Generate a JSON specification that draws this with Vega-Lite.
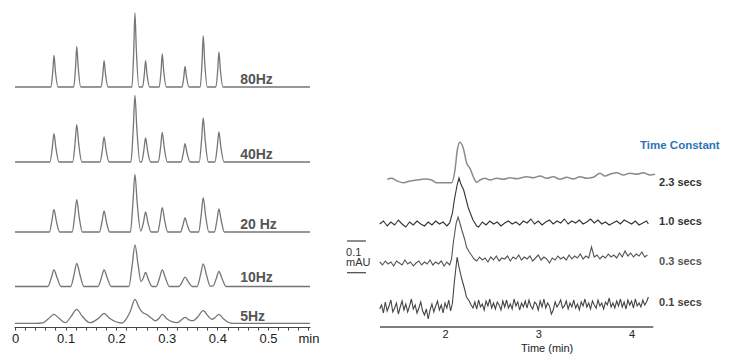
{
"$schema":"https://vega.github.io/schema/vega-lite/v6.json",
"padding":{"left":11,"top":0,"right":0,"bottom":0},
"background":"white",
"bounds":"flush",
"spacing":30,
"config":{"view":{"stroke":null},"font":"Liberation Sans"},
"hconcat":[
{
"width":296,"height":327,
"resolve":{"axis":{"x":"independent"}},
"layer":[
{"data":{"values":[
{"s":"80Hz","t":0,"v":240},{"s":"80Hz","t":0.071,"v":240},{"s":"80Hz","t":0.0747,"v":255.8},{"s":"80Hz","t":0.077,"v":271.6},{"s":"80Hz","t":0.0798,"v":255.8},{"s":"80Hz","t":0.085,"v":240},
{"s":"80Hz","t":0.116,"v":240},{"s":"80Hz","t":0.1197,"v":260.3},{"s":"80Hz","t":0.122,"v":280.6},{"s":"80Hz","t":0.1248,"v":260.3},{"s":"80Hz","t":0.130,"v":240},
{"s":"80Hz","t":0.170,"v":240},{"s":"80Hz","t":0.1737,"v":253.2},{"s":"80Hz","t":0.176,"v":266.3},{"s":"80Hz","t":0.1788,"v":253.2},{"s":"80Hz","t":0.184,"v":240},
{"s":"80Hz","t":0.231,"v":240},{"s":"80Hz","t":0.2347,"v":277},{"s":"80Hz","t":0.237,"v":314},{"s":"80Hz","t":0.2398,"v":277},{"s":"80Hz","t":0.245,"v":240},
{"s":"80Hz","t":0.252,"v":240},{"s":"80Hz","t":0.2557,"v":253.2},{"s":"80Hz","t":0.258,"v":266.3},{"s":"80Hz","t":0.2608,"v":253.2},{"s":"80Hz","t":0.266,"v":240},
{"s":"80Hz","t":0.285,"v":240},{"s":"80Hz","t":0.2887,"v":256.5},{"s":"80Hz","t":0.291,"v":273},{"s":"80Hz","t":0.2938,"v":256.5},{"s":"80Hz","t":0.299,"v":240},
{"s":"80Hz","t":0.330,"v":240},{"s":"80Hz","t":0.3337,"v":250.3},{"s":"80Hz","t":0.336,"v":260.6},{"s":"80Hz","t":0.3388,"v":250.3},{"s":"80Hz","t":0.344,"v":240},
{"s":"80Hz","t":0.366,"v":240},{"s":"80Hz","t":0.3697,"v":265.7},{"s":"80Hz","t":0.372,"v":291.3},{"s":"80Hz","t":0.3748,"v":265.7},{"s":"80Hz","t":0.380,"v":240},
{"s":"80Hz","t":0.397,"v":240},{"s":"80Hz","t":0.4007,"v":257.5},{"s":"80Hz","t":0.403,"v":275},{"s":"80Hz","t":0.4058,"v":257.5},{"s":"80Hz","t":0.411,"v":240},
{"s":"80Hz","t":0.583,"v":240},
{"s":"40Hz","t":0,"v":165},{"s":"40Hz","t":0.069,"v":165},{"s":"40Hz","t":0.0737,"v":179.2},{"s":"40Hz","t":0.077,"v":193.3},{"s":"40Hz","t":0.0808,"v":179.2},{"s":"40Hz","t":0.087,"v":165},
{"s":"40Hz","t":0.114,"v":165},{"s":"40Hz","t":0.1187,"v":183.7},{"s":"40Hz","t":0.122,"v":202.3},{"s":"40Hz","t":0.1258,"v":183.7},{"s":"40Hz","t":0.132,"v":165},
{"s":"40Hz","t":0.168,"v":165},{"s":"40Hz","t":0.1727,"v":177.5},{"s":"40Hz","t":0.176,"v":190},{"s":"40Hz","t":0.1798,"v":177.5},{"s":"40Hz","t":0.186,"v":165},
{"s":"40Hz","t":0.229,"v":165},{"s":"40Hz","t":0.2337,"v":198.3},{"s":"40Hz","t":0.237,"v":231.6},{"s":"40Hz","t":0.2408,"v":198.3},{"s":"40Hz","t":0.247,"v":165},
{"s":"40Hz","t":0.250,"v":165},{"s":"40Hz","t":0.2547,"v":177},{"s":"40Hz","t":0.258,"v":189},{"s":"40Hz","t":0.2618,"v":177},{"s":"40Hz","t":0.268,"v":165},
{"s":"40Hz","t":0.283,"v":165},{"s":"40Hz","t":0.2877,"v":179.8},{"s":"40Hz","t":0.291,"v":194.6},{"s":"40Hz","t":0.2948,"v":179.8},{"s":"40Hz","t":0.301,"v":165},
{"s":"40Hz","t":0.328,"v":165},{"s":"40Hz","t":0.3327,"v":174.2},{"s":"40Hz","t":0.336,"v":183.3},{"s":"40Hz","t":0.3398,"v":174.2},{"s":"40Hz","t":0.346,"v":165},
{"s":"40Hz","t":0.364,"v":165},{"s":"40Hz","t":0.3687,"v":187},{"s":"40Hz","t":0.372,"v":209},{"s":"40Hz","t":0.3758,"v":187},{"s":"40Hz","t":0.382,"v":165},
{"s":"40Hz","t":0.395,"v":165},{"s":"40Hz","t":0.3997,"v":180},{"s":"40Hz","t":0.403,"v":195},{"s":"40Hz","t":0.4068,"v":180},{"s":"40Hz","t":0.413,"v":165},
{"s":"40Hz","t":0.583,"v":165},
{"s":"20Hz","t":0,"v":95},{"s":"20Hz","t":0.068,"v":95},{"s":"20Hz","t":0.073,"v":106.4},{"s":"20Hz","t":0.077,"v":117.7},{"s":"20Hz","t":0.0815,"v":106.4},{"s":"20Hz","t":0.088,"v":95},
{"s":"20Hz","t":0.113,"v":95},{"s":"20Hz","t":0.118,"v":111.2},{"s":"20Hz","t":0.122,"v":127.4},{"s":"20Hz","t":0.1265,"v":111.2},{"s":"20Hz","t":0.133,"v":95},
{"s":"20Hz","t":0.167,"v":95},{"s":"20Hz","t":0.172,"v":105.5},{"s":"20Hz","t":0.176,"v":116},{"s":"20Hz","t":0.1805,"v":105.5},{"s":"20Hz","t":0.187,"v":95},
{"s":"20Hz","t":0.228,"v":95},{"s":"20Hz","t":0.233,"v":123.9},{"s":"20Hz","t":0.237,"v":152.7},{"s":"20Hz","t":0.2415,"v":123.9},{"s":"20Hz","t":0.2485,"v":96},
{"s":"20Hz","t":0.254,"v":105},{"s":"20Hz","t":0.258,"v":115},{"s":"20Hz","t":0.2625,"v":105},{"s":"20Hz","t":0.269,"v":95},
{"s":"20Hz","t":0.282,"v":95},{"s":"20Hz","t":0.287,"v":107.2},{"s":"20Hz","t":0.291,"v":119.4},{"s":"20Hz","t":0.2955,"v":107.2},{"s":"20Hz","t":0.302,"v":95},
{"s":"20Hz","t":0.327,"v":95},{"s":"20Hz","t":0.332,"v":102},{"s":"20Hz","t":0.336,"v":109},{"s":"20Hz","t":0.3405,"v":102},{"s":"20Hz","t":0.347,"v":95},
{"s":"20Hz","t":0.363,"v":95},{"s":"20Hz","t":0.368,"v":112.2},{"s":"20Hz","t":0.372,"v":129.4},{"s":"20Hz","t":0.3765,"v":112.2},{"s":"20Hz","t":0.383,"v":95},
{"s":"20Hz","t":0.394,"v":95},{"s":"20Hz","t":0.399,"v":106.5},{"s":"20Hz","t":0.403,"v":118},{"s":"20Hz","t":0.4075,"v":106.5},{"s":"20Hz","t":0.414,"v":95},
{"s":"20Hz","t":0.583,"v":95},
{"s":"10Hz","t":0,"v":40.5},{"s":"10Hz","t":0.065,"v":40.5},{"s":"10Hz","t":0.0715,"v":48.8},{"s":"10Hz","t":0.077,"v":57},{"s":"10Hz","t":0.0835,"v":48.8},{"s":"10Hz","t":0.091,"v":40.5},
{"s":"10Hz","t":0.110,"v":40.5},{"s":"10Hz","t":0.1165,"v":52},{"s":"10Hz","t":0.122,"v":63.5},{"s":"10Hz","t":0.1285,"v":52},{"s":"10Hz","t":0.136,"v":40.5},
{"s":"10Hz","t":0.164,"v":40.5},{"s":"10Hz","t":0.1705,"v":48.8},{"s":"10Hz","t":0.176,"v":57},{"s":"10Hz","t":0.1825,"v":48.8},{"s":"10Hz","t":0.190,"v":40.5},
{"s":"10Hz","t":0.225,"v":40.5},{"s":"10Hz","t":0.2315,"v":61.3},{"s":"10Hz","t":0.237,"v":82},{"s":"10Hz","t":0.2435,"v":61.3},{"s":"10Hz","t":0.249,"v":45.5},
{"s":"10Hz","t":0.2535,"v":49},{"s":"10Hz","t":0.258,"v":54.5},{"s":"10Hz","t":0.2635,"v":47.5},{"s":"10Hz","t":0.271,"v":40.5},
{"s":"10Hz","t":0.279,"v":40.5},{"s":"10Hz","t":0.2855,"v":48.8},{"s":"10Hz","t":0.291,"v":57},{"s":"10Hz","t":0.2975,"v":48.8},{"s":"10Hz","t":0.305,"v":40.5},
{"s":"10Hz","t":0.324,"v":40.5},{"s":"10Hz","t":0.3305,"v":45.2},{"s":"10Hz","t":0.336,"v":49.8},{"s":"10Hz","t":0.3425,"v":45.2},{"s":"10Hz","t":0.350,"v":40.5},
{"s":"10Hz","t":0.360,"v":40.5},{"s":"10Hz","t":0.3665,"v":51.8},{"s":"10Hz","t":0.372,"v":63},{"s":"10Hz","t":0.3785,"v":51.8},{"s":"10Hz","t":0.386,"v":40.8},
{"s":"10Hz","t":0.391,"v":40.8},{"s":"10Hz","t":0.3975,"v":48},{"s":"10Hz","t":0.403,"v":55.5},{"s":"10Hz","t":0.4095,"v":48},{"s":"10Hz","t":0.417,"v":40.5},
{"s":"10Hz","t":0.583,"v":40.5},
{"s":"5Hz","t":0,"v":3.7},{"s":"5Hz","t":0.04,"v":3.7},{"s":"5Hz","t":0.055,"v":4.2},{"s":"5Hz","t":0.066,"v":8.2},{"s":"5Hz","t":0.077,"v":12.7},{"s":"5Hz","t":0.088,"v":8.2},
{"s":"5Hz","t":0.0995,"v":4.3},{"s":"5Hz","t":0.111,"v":10.7},{"s":"5Hz","t":0.122,"v":17.7},{"s":"5Hz","t":0.133,"v":10.7},{"s":"5Hz","t":0.148,"v":4.3},
{"s":"5Hz","t":0.165,"v":8.7},{"s":"5Hz","t":0.176,"v":13.7},{"s":"5Hz","t":0.187,"v":8.7},{"s":"5Hz","t":0.211,"v":4.0},
{"s":"5Hz","t":0.228,"v":15.7},{"s":"5Hz","t":0.237,"v":27.7},{"s":"5Hz","t":0.245,"v":19.7},{"s":"5Hz","t":0.25,"v":15.7},{"s":"5Hz","t":0.261,"v":12.2},{"s":"5Hz","t":0.27,"v":8.7},{"s":"5Hz","t":0.277,"v":6.2},
{"s":"5Hz","t":0.284,"v":8.2},{"s":"5Hz","t":0.291,"v":12.7},{"s":"5Hz","t":0.300,"v":8.2},{"s":"5Hz","t":0.32,"v":4.3},
{"s":"5Hz","t":0.328,"v":6.7},{"s":"5Hz","t":0.336,"v":9.7},{"s":"5Hz","t":0.344,"v":7.2},{"s":"5Hz","t":0.352,"v":6.3},
{"s":"5Hz","t":0.361,"v":10},{"s":"5Hz","t":0.372,"v":16.3},{"s":"5Hz","t":0.382,"v":10.7},{"s":"5Hz","t":0.389,"v":7.7},
{"s":"5Hz","t":0.395,"v":9.2},{"s":"5Hz","t":0.403,"v":12.7},{"s":"5Hz","t":0.412,"v":8.2},{"s":"5Hz","t":0.422,"v":4.5},{"s":"5Hz","t":0.43,"v":3.7},
{"s":"5Hz","t":0.583,"v":3.7}
]},
"mark":{"type":"line","interpolate":"monotone","strokeWidth":1.3,"color":"#767676"},
"encoding":{
"x":{"field":"t","type":"quantitative","scale":{"domain":[-0.002,0.583],"nice":false,"zero":false},
"axis":{"orient":"bottom","values":[0,0.1,0.2,0.3,0.4,0.5,0.58],
"labelExpr":"datum.value > 0.57 ? 'min' : format(datum.value,'.1~f')",
"title":null,"grid":false,"domainColor":"#444","tickColor":"#444","tickSize":3,"labelFontSize":13,"labelFont":"Liberation Sans","labelColor":"#222","labelPadding":2,"labelFlush":false,"labelOverlap":false}},
"y":{"field":"v","type":"quantitative","scale":{"domain":[0,327],"nice":false},"axis":null},
"detail":{"field":"s"}}},
{"data":{"values":[
{"lbl":"80Hz","t":0.445,"v":247},{"lbl":"40Hz","t":0.445,"v":172},{"lbl":"20 Hz","t":0.445,"v":102},{"lbl":"10Hz","t":0.445,"v":49},{"lbl":"5Hz","t":0.445,"v":10}
]},
"mark":{"type":"text","align":"left","baseline":"middle","font":"Liberation Sans","fontSize":14,"fontWeight":"bold","color":"#555555"},
"encoding":{
"x":{"field":"t","type":"quantitative","scale":{"domain":[-0.002,0.583],"nice":false,"zero":false},
"axis":{"orient":"bottom","values":[0.02,0.04,0.06,0.08,0.12,0.14,0.16,0.18,0.22,0.24,0.26,0.28,0.32,0.34,0.36,0.38,0.42,0.44,0.46,0.48,0.52,0.54,0.56],"labels":false,"domain":false,"tickSize":3,"tickColor":"#444","grid":false,"title":null}},
"y":{"field":"v","type":"quantitative","scale":{"domain":[0,327],"nice":false},"axis":null},
"text":{"field":"lbl"}}}
]
},
{
"width":391,"height":327,
"layer":[
{"data":{"values":[{"t":1.303,"t2":4.232,"v":0}]},
"mark":{"type":"rule","color":"#555555","strokeWidth":1.5},
"encoding":{
"x":{"field":"t","type":"quantitative","scale":{"domain":[0.8746,5.0654],"nice":false,"zero":false},
"axis":{"values":[2,3,4],"format":"d","domain":false,"ticks":false,"tickSize":0,"grid":false,"labelFontSize":11,"labelFont":"Liberation Sans","labelColor":"#222","labelPadding":1.5,"labelFlush":false,
"title":"Time (min)","titleFontSize":11,"titleFont":"Liberation Sans","titleFontWeight":"normal","titleColor":"#222","titleX":206.7,"titleY":24.5,"titleBaseline":"alphabetic","titleAlign":"center"}},
"x2":{"field":"t2"},
"y":{"field":"v","type":"quantitative","scale":{"domain":[0,327],"nice":false},"axis":null}}},
{"data":{"values":[
{"s":"2.3 secs","t":1.382,"v":147.7},{"s":"2.3 secs","t":1.429,"v":148.7},{"s":"2.3 secs","t":1.482,"v":146.3},{"s":"2.3 secs","t":1.553,"v":144.3},{"s":"2.3 secs","t":1.625,"v":146},{"s":"2.3 secs","t":1.697,"v":147},{"s":"2.3 secs","t":1.786,"v":148},{"s":"2.3 secs","t":1.857,"v":147},{"s":"2.3 secs","t":1.911,"v":144.3},{"s":"2.3 secs","t":2.072,"v":144.3},
{"s":"2.3 secs","t":2.107,"v":157},{"s":"2.3 secs","t":2.132,"v":177},{"s":"2.3 secs","t":2.161,"v":184.7},{"s":"2.3 secs","t":2.196,"v":178.7},{"s":"2.3 secs","t":2.233,"v":163.7},{"s":"2.3 secs","t":2.268,"v":158.7},{"s":"2.3 secs","t":2.303,"v":150.3},{"s":"2.3 secs","t":2.34,"v":144.7},
{"s":"2.3 secs","t":2.375,"v":147},{"s":"2.3 secs","t":2.429,"v":148.7},{"s":"2.3 secs","t":2.482,"v":147},{"s":"2.3 secs","t":2.554,"v":148.7},{"s":"2.3 secs","t":2.625,"v":147.7},{"s":"2.3 secs","t":2.697,"v":149.3},{"s":"2.3 secs","t":2.768,"v":148.3},{"s":"2.3 secs","t":2.876,"v":150.3},{"s":"2.3 secs","t":2.946,"v":149.3},{"s":"2.3 secs","t":3.018,"v":151},
{"s":"2.3 secs","t":3.09,"v":148.7},{"s":"2.3 secs","t":3.161,"v":150.3},{"s":"2.3 secs","t":3.233,"v":147.7},{"s":"2.3 secs","t":3.304,"v":149.7},{"s":"2.3 secs","t":3.375,"v":148},{"s":"2.3 secs","t":3.447,"v":150.3},{"s":"2.3 secs","t":3.519,"v":148.7},{"s":"2.3 secs","t":3.589,"v":149.7},{"s":"2.3 secs","t":3.661,"v":153.7},{"s":"2.3 secs","t":3.715,"v":151},
{"s":"2.3 secs","t":3.768,"v":152.7},{"s":"2.3 secs","t":3.84,"v":154.3},{"s":"2.3 secs","t":3.911,"v":152},{"s":"2.3 secs","t":3.983,"v":153.7},{"s":"2.3 secs","t":4.055,"v":152.7},{"s":"2.3 secs","t":4.125,"v":154.3},{"s":"2.3 secs","t":4.197,"v":152},{"s":"2.3 secs","t":4.251,"v":152.7}
]},
"mark":{"type":"line","interpolate":"monotone","strokeWidth":1.5,"color":"#8a8a8a"},
"encoding":{
"x":{"field":"t","type":"quantitative","scale":{"domain":[0.8746,5.0654],"nice":false,"zero":false}},
"y":{"field":"v","type":"quantitative","scale":{"domain":[0,327],"nice":false}}}},
{"data":{"values":[
{"s":"1.0 secs","t":1.30,"v":103},{"s":"1.0 secs","t":1.34,"v":106},{"s":"1.0 secs","t":1.38,"v":101},{"s":"1.0 secs","t":1.42,"v":105},{"s":"1.0 secs","t":1.46,"v":102},{"s":"1.0 secs","t":1.50,"v":107},{"s":"1.0 secs","t":1.54,"v":103},{"s":"1.0 secs","t":1.58,"v":100},{"s":"1.0 secs","t":1.62,"v":105},{"s":"1.0 secs","t":1.66,"v":102},
{"s":"1.0 secs","t":1.70,"v":106},{"s":"1.0 secs","t":1.74,"v":103},{"s":"1.0 secs","t":1.78,"v":101},{"s":"1.0 secs","t":1.82,"v":105},{"s":"1.0 secs","t":1.86,"v":102},{"s":"1.0 secs","t":1.90,"v":106},{"s":"1.0 secs","t":1.94,"v":103},{"s":"1.0 secs","t":1.98,"v":105},{"s":"1.0 secs","t":2.02,"v":101},{"s":"1.0 secs","t":2.05,"v":104},
{"s":"1.0 secs","t":2.08,"v":114},{"s":"1.0 secs","t":2.10,"v":127},{"s":"1.0 secs","t":2.13,"v":142},{"s":"1.0 secs","t":2.15,"v":149},{"s":"1.0 secs","t":2.17,"v":143},{"s":"1.0 secs","t":2.20,"v":137},{"s":"1.0 secs","t":2.25,"v":119},{"s":"1.0 secs","t":2.30,"v":107},{"s":"1.0 secs","t":2.34,"v":101},{"s":"1.0 secs","t":2.36,"v":100},
{"s":"1.0 secs","t":2.40,"v":105},{"s":"1.0 secs","t":2.44,"v":102},{"s":"1.0 secs","t":2.48,"v":106},{"s":"1.0 secs","t":2.52,"v":103},{"s":"1.0 secs","t":2.56,"v":105},{"s":"1.0 secs","t":2.60,"v":101},{"s":"1.0 secs","t":2.64,"v":104},{"s":"1.0 secs","t":2.68,"v":106},{"s":"1.0 secs","t":2.72,"v":103},{"s":"1.0 secs","t":2.76,"v":105},
{"s":"1.0 secs","t":2.80,"v":102},{"s":"1.0 secs","t":2.84,"v":106},{"s":"1.0 secs","t":2.88,"v":104},{"s":"1.0 secs","t":2.92,"v":108},{"s":"1.0 secs","t":2.96,"v":103},{"s":"1.0 secs","t":3.00,"v":106},{"s":"1.0 secs","t":3.04,"v":102},{"s":"1.0 secs","t":3.08,"v":105},{"s":"1.0 secs","t":3.12,"v":107},{"s":"1.0 secs","t":3.16,"v":103},
{"s":"1.0 secs","t":3.20,"v":106},{"s":"1.0 secs","t":3.24,"v":104},{"s":"1.0 secs","t":3.28,"v":108},{"s":"1.0 secs","t":3.32,"v":103},{"s":"1.0 secs","t":3.36,"v":106},{"s":"1.0 secs","t":3.40,"v":104},{"s":"1.0 secs","t":3.44,"v":107},{"s":"1.0 secs","t":3.48,"v":103},{"s":"1.0 secs","t":3.52,"v":105},{"s":"1.0 secs","t":3.56,"v":108},
{"s":"1.0 secs","t":3.60,"v":104},{"s":"1.0 secs","t":3.64,"v":107},{"s":"1.0 secs","t":3.68,"v":103},{"s":"1.0 secs","t":3.72,"v":105},{"s":"1.0 secs","t":3.76,"v":102},{"s":"1.0 secs","t":3.80,"v":104},{"s":"1.0 secs","t":3.84,"v":106},{"s":"1.0 secs","t":3.88,"v":103},{"s":"1.0 secs","t":3.92,"v":107},{"s":"1.0 secs","t":3.96,"v":105},
{"s":"1.0 secs","t":4.00,"v":103},{"s":"1.0 secs","t":4.04,"v":106},{"s":"1.0 secs","t":4.08,"v":102},{"s":"1.0 secs","t":4.12,"v":104},{"s":"1.0 secs","t":4.16,"v":106},{"s":"1.0 secs","t":4.18,"v":103},
{"s":"0.3 secs","t":1.30,"v":65},{"s":"0.3 secs","t":1.33,"v":62},{"s":"0.3 secs","t":1.36,"v":66},{"s":"0.3 secs","t":1.39,"v":63},{"s":"0.3 secs","t":1.42,"v":65},{"s":"0.3 secs","t":1.45,"v":61},{"s":"0.3 secs","t":1.48,"v":66},{"s":"0.3 secs","t":1.51,"v":64},{"s":"0.3 secs","t":1.54,"v":62},{"s":"0.3 secs","t":1.57,"v":67},
{"s":"0.3 secs","t":1.60,"v":63},{"s":"0.3 secs","t":1.63,"v":65},{"s":"0.3 secs","t":1.66,"v":61},{"s":"0.3 secs","t":1.69,"v":64},{"s":"0.3 secs","t":1.72,"v":66},{"s":"0.3 secs","t":1.75,"v":62},{"s":"0.3 secs","t":1.78,"v":65},{"s":"0.3 secs","t":1.81,"v":63},{"s":"0.3 secs","t":1.84,"v":67},{"s":"0.3 secs","t":1.87,"v":62},
{"s":"0.3 secs","t":1.90,"v":65},{"s":"0.3 secs","t":1.93,"v":63},{"s":"0.3 secs","t":1.96,"v":66},{"s":"0.3 secs","t":1.99,"v":61},{"s":"0.3 secs","t":2.02,"v":65},{"s":"0.3 secs","t":2.05,"v":62},
{"s":"0.3 secs","t":2.07,"v":68},{"s":"0.3 secs","t":2.09,"v":85},{"s":"0.3 secs","t":2.12,"v":104},{"s":"0.3 secs","t":2.14,"v":110},{"s":"0.3 secs","t":2.16,"v":104},{"s":"0.3 secs","t":2.18,"v":97},{"s":"0.3 secs","t":2.21,"v":88},{"s":"0.3 secs","t":2.23,"v":80},{"s":"0.3 secs","t":2.26,"v":75},{"s":"0.3 secs","t":2.29,"v":71},{"s":"0.3 secs","t":2.31,"v":68},
{"s":"0.3 secs","t":2.34,"v":66},{"s":"0.3 secs","t":2.37,"v":70},{"s":"0.3 secs","t":2.40,"v":67},{"s":"0.3 secs","t":2.43,"v":69},{"s":"0.3 secs","t":2.46,"v":65},{"s":"0.3 secs","t":2.49,"v":70},{"s":"0.3 secs","t":2.52,"v":67},{"s":"0.3 secs","t":2.55,"v":71},{"s":"0.3 secs","t":2.58,"v":66},{"s":"0.3 secs","t":2.61,"v":69},
{"s":"0.3 secs","t":2.64,"v":68},{"s":"0.3 secs","t":2.67,"v":71},{"s":"0.3 secs","t":2.70,"v":66},{"s":"0.3 secs","t":2.73,"v":70},{"s":"0.3 secs","t":2.76,"v":68},{"s":"0.3 secs","t":2.79,"v":72},{"s":"0.3 secs","t":2.82,"v":67},{"s":"0.3 secs","t":2.85,"v":70},{"s":"0.3 secs","t":2.88,"v":68},{"s":"0.3 secs","t":2.91,"v":71},
{"s":"0.3 secs","t":2.94,"v":66},{"s":"0.3 secs","t":2.97,"v":69},{"s":"0.3 secs","t":3.00,"v":72},{"s":"0.3 secs","t":3.03,"v":67},{"s":"0.3 secs","t":3.06,"v":70},{"s":"0.3 secs","t":3.09,"v":68},{"s":"0.3 secs","t":3.12,"v":64},{"s":"0.3 secs","t":3.15,"v":69},{"s":"0.3 secs","t":3.18,"v":67},{"s":"0.3 secs","t":3.21,"v":71},
{"s":"0.3 secs","t":3.24,"v":68},{"s":"0.3 secs","t":3.27,"v":70},{"s":"0.3 secs","t":3.30,"v":67},{"s":"0.3 secs","t":3.33,"v":72},{"s":"0.3 secs","t":3.36,"v":68},{"s":"0.3 secs","t":3.39,"v":71},{"s":"0.3 secs","t":3.42,"v":69},{"s":"0.3 secs","t":3.45,"v":73},{"s":"0.3 secs","t":3.48,"v":68},{"s":"0.3 secs","t":3.51,"v":71},
{"s":"0.3 secs","t":3.54,"v":69},{"s":"0.3 secs","t":3.57,"v":80},{"s":"0.3 secs","t":3.60,"v":70},{"s":"0.3 secs","t":3.63,"v":72},{"s":"0.3 secs","t":3.66,"v":68},{"s":"0.3 secs","t":3.69,"v":71},{"s":"0.3 secs","t":3.72,"v":69},{"s":"0.3 secs","t":3.75,"v":73},{"s":"0.3 secs","t":3.78,"v":70},{"s":"0.3 secs","t":3.81,"v":72},
{"s":"0.3 secs","t":3.84,"v":69},{"s":"0.3 secs","t":3.87,"v":74},{"s":"0.3 secs","t":3.90,"v":70},{"s":"0.3 secs","t":3.93,"v":76},{"s":"0.3 secs","t":3.96,"v":71},{"s":"0.3 secs","t":3.99,"v":74},{"s":"0.3 secs","t":4.02,"v":70},{"s":"0.3 secs","t":4.05,"v":73},{"s":"0.3 secs","t":4.08,"v":71},{"s":"0.3 secs","t":4.11,"v":75},
{"s":"0.3 secs","t":4.14,"v":70},{"s":"0.3 secs","t":4.17,"v":72},
{"s":"0.1 secs","t":1.30,"v":18},{"s":"0.1 secs","t":1.32,"v":22},{"s":"0.1 secs","t":1.34,"v":14},{"s":"0.1 secs","t":1.36,"v":25},{"s":"0.1 secs","t":1.38,"v":16},{"s":"0.1 secs","t":1.40,"v":21},{"s":"0.1 secs","t":1.42,"v":27},{"s":"0.1 secs","t":1.44,"v":15},{"s":"0.1 secs","t":1.46,"v":19},{"s":"0.1 secs","t":1.48,"v":24},
{"s":"0.1 secs","t":1.50,"v":13},{"s":"0.1 secs","t":1.52,"v":20},{"s":"0.1 secs","t":1.54,"v":26},{"s":"0.1 secs","t":1.56,"v":17},{"s":"0.1 secs","t":1.58,"v":23},{"s":"0.1 secs","t":1.60,"v":15},{"s":"0.1 secs","t":1.62,"v":21},{"s":"0.1 secs","t":1.64,"v":28},{"s":"0.1 secs","t":1.66,"v":18},{"s":"0.1 secs","t":1.68,"v":22},
{"s":"0.1 secs","t":1.70,"v":14},{"s":"0.1 secs","t":1.72,"v":19},{"s":"0.1 secs","t":1.74,"v":25},{"s":"0.1 secs","t":1.76,"v":16},{"s":"0.1 secs","t":1.78,"v":12},{"s":"0.1 secs","t":1.80,"v":18},{"s":"0.1 secs","t":1.82,"v":8},{"s":"0.1 secs","t":1.84,"v":17},{"s":"0.1 secs","t":1.86,"v":23},{"s":"0.1 secs","t":1.88,"v":15},
{"s":"0.1 secs","t":1.90,"v":21},{"s":"0.1 secs","t":1.92,"v":26},{"s":"0.1 secs","t":1.94,"v":17},{"s":"0.1 secs","t":1.96,"v":22},{"s":"0.1 secs","t":1.98,"v":14},{"s":"0.1 secs","t":2.00,"v":24},{"s":"0.1 secs","t":2.02,"v":19},{"s":"0.1 secs","t":2.04,"v":27},{"s":"0.1 secs","t":2.06,"v":16},
{"s":"0.1 secs","t":2.08,"v":24},{"s":"0.1 secs","t":2.10,"v":45},{"s":"0.1 secs","t":2.13,"v":70},{"s":"0.1 secs","t":2.15,"v":60},{"s":"0.1 secs","t":2.18,"v":48},{"s":"0.1 secs","t":2.21,"v":38},{"s":"0.1 secs","t":2.23,"v":30},{"s":"0.1 secs","t":2.26,"v":26},{"s":"0.1 secs","t":2.28,"v":22},{"s":"0.1 secs","t":2.30,"v":19},
{"s":"0.1 secs","t":2.32,"v":25},{"s":"0.1 secs","t":2.34,"v":18},{"s":"0.1 secs","t":2.36,"v":27},{"s":"0.1 secs","t":2.38,"v":20},{"s":"0.1 secs","t":2.40,"v":23},{"s":"0.1 secs","t":2.42,"v":17},{"s":"0.1 secs","t":2.44,"v":26},{"s":"0.1 secs","t":2.46,"v":21},{"s":"0.1 secs","t":2.48,"v":28},{"s":"0.1 secs","t":2.50,"v":19},
{"s":"0.1 secs","t":2.52,"v":24},{"s":"0.1 secs","t":2.54,"v":18},{"s":"0.1 secs","t":2.56,"v":25},{"s":"0.1 secs","t":2.58,"v":22},{"s":"0.1 secs","t":2.60,"v":17},{"s":"0.1 secs","t":2.62,"v":26},{"s":"0.1 secs","t":2.64,"v":20},{"s":"0.1 secs","t":2.66,"v":27},{"s":"0.1 secs","t":2.68,"v":19},{"s":"0.1 secs","t":2.70,"v":23},
{"s":"0.1 secs","t":2.72,"v":18},{"s":"0.1 secs","t":2.74,"v":28},{"s":"0.1 secs","t":2.76,"v":21},{"s":"0.1 secs","t":2.78,"v":25},{"s":"0.1 secs","t":2.80,"v":17},{"s":"0.1 secs","t":2.82,"v":24},{"s":"0.1 secs","t":2.84,"v":20},{"s":"0.1 secs","t":2.86,"v":26},{"s":"0.1 secs","t":2.88,"v":19},{"s":"0.1 secs","t":2.90,"v":27},
{"s":"0.1 secs","t":2.92,"v":21},{"s":"0.1 secs","t":2.94,"v":18},{"s":"0.1 secs","t":2.96,"v":25},{"s":"0.1 secs","t":2.98,"v":23},{"s":"0.1 secs","t":3.00,"v":17},{"s":"0.1 secs","t":3.02,"v":26},{"s":"0.1 secs","t":3.04,"v":20},{"s":"0.1 secs","t":3.06,"v":28},{"s":"0.1 secs","t":3.08,"v":19},{"s":"0.1 secs","t":3.10,"v":24},
{"s":"0.1 secs","t":3.12,"v":21},{"s":"0.1 secs","t":3.14,"v":13},{"s":"0.1 secs","t":3.16,"v":17},{"s":"0.1 secs","t":3.18,"v":25},{"s":"0.1 secs","t":3.20,"v":20},{"s":"0.1 secs","t":3.22,"v":23},{"s":"0.1 secs","t":3.24,"v":27},{"s":"0.1 secs","t":3.26,"v":19},{"s":"0.1 secs","t":3.28,"v":21},{"s":"0.1 secs","t":3.30,"v":26},
{"s":"0.1 secs","t":3.32,"v":18},{"s":"0.1 secs","t":3.34,"v":24},{"s":"0.1 secs","t":3.36,"v":20},{"s":"0.1 secs","t":3.38,"v":27},{"s":"0.1 secs","t":3.40,"v":19},{"s":"0.1 secs","t":3.42,"v":23},{"s":"0.1 secs","t":3.44,"v":17},{"s":"0.1 secs","t":3.46,"v":25},{"s":"0.1 secs","t":3.48,"v":21},{"s":"0.1 secs","t":3.50,"v":28},
{"s":"0.1 secs","t":3.52,"v":20},{"s":"0.1 secs","t":3.54,"v":24},{"s":"0.1 secs","t":3.56,"v":18},{"s":"0.1 secs","t":3.58,"v":26},{"s":"0.1 secs","t":3.60,"v":22},{"s":"0.1 secs","t":3.62,"v":19},{"s":"0.1 secs","t":3.64,"v":27},{"s":"0.1 secs","t":3.66,"v":21},{"s":"0.1 secs","t":3.68,"v":24},{"s":"0.1 secs","t":3.70,"v":18},
{"s":"0.1 secs","t":3.72,"v":25},{"s":"0.1 secs","t":3.74,"v":22},{"s":"0.1 secs","t":3.76,"v":29},{"s":"0.1 secs","t":3.78,"v":20},{"s":"0.1 secs","t":3.80,"v":24},{"s":"0.1 secs","t":3.82,"v":19},{"s":"0.1 secs","t":3.84,"v":26},{"s":"0.1 secs","t":3.86,"v":21},{"s":"0.1 secs","t":3.88,"v":28},{"s":"0.1 secs","t":3.90,"v":20},
{"s":"0.1 secs","t":3.92,"v":25},{"s":"0.1 secs","t":3.94,"v":18},{"s":"0.1 secs","t":3.96,"v":27},{"s":"0.1 secs","t":3.98,"v":22},{"s":"0.1 secs","t":4.00,"v":26},{"s":"0.1 secs","t":4.02,"v":19},{"s":"0.1 secs","t":4.04,"v":28},{"s":"0.1 secs","t":4.06,"v":21},{"s":"0.1 secs","t":4.08,"v":24},{"s":"0.1 secs","t":4.10,"v":20},
{"s":"0.1 secs","t":4.12,"v":27},{"s":"0.1 secs","t":4.14,"v":22},{"s":"0.1 secs","t":4.16,"v":25},{"s":"0.1 secs","t":4.18,"v":30}
]},
"mark":{"type":"line","strokeWidth":1.1},
"encoding":{
"x":{"field":"t","type":"quantitative","scale":{"domain":[0.8746,5.0654],"nice":false,"zero":false}},
"y":{"field":"v","type":"quantitative","scale":{"domain":[0,327],"nice":false}},
"color":{"field":"s","type":"nominal","scale":{"domain":["1.0 secs","0.3 secs","0.1 secs"],"range":["#333333","#555555","#444444"]},"legend":null}}},
{"data":{"values":[
{"lbl":"2.3 secs","t":4.294,"v":143.7},{"lbl":"1.0 secs","t":4.294,"v":104.7},{"lbl":"0.3 secs","t":4.294,"v":65.3},{"lbl":"0.1 secs","t":4.294,"v":23.7}
]},
"mark":{"type":"text","align":"left","baseline":"middle","font":"Liberation Sans","fontSize":11,"fontWeight":"bold"},
"encoding":{
"x":{"field":"t","type":"quantitative","scale":{"domain":[0.8746,5.0654],"nice":false,"zero":false}},
"y":{"field":"v","type":"quantitative","scale":{"domain":[0,327],"nice":false}},
"text":{"field":"lbl"},
"color":{"field":"lbl","type":"nominal","scale":{"domain":["2.3 secs","1.0 secs","0.3 secs","0.1 secs"],"range":["#8a8a8a","#333333","#808080","#808080"]},"legend":null}}},
{"data":{"values":[{"lbl":"Time Constant","t":4.09,"v":181.3}]},
"mark":{"type":"text","align":"left","baseline":"middle","font":"Liberation Sans","fontSize":11.5,"fontWeight":"bold","color":"#2e74b5"},
"encoding":{
"x":{"field":"t","type":"quantitative","scale":{"domain":[0.8746,5.0654],"nice":false,"zero":false}},
"y":{"field":"v","type":"quantitative","scale":{"domain":[0,327],"nice":false}},
"text":{"field":"lbl"}}},
{"data":{"values":[{"t":0.95,"t2":1.153,"v":86},{"t":0.95,"t2":1.153,"v":54.3}]},
"mark":{"type":"rule","color":"#444444","strokeWidth":1.2},
"encoding":{
"x":{"field":"t","type":"quantitative","scale":{"domain":[0.8746,5.0654],"nice":false,"zero":false}},
"x2":{"field":"t2"},
"y":{"field":"v","type":"quantitative","scale":{"domain":[0,327],"nice":false}}}},
{"data":{"values":[{"lbl":"0.1","t":0.939,"v":74.3},{"lbl":"mAU","t":0.939,"v":63.7}]},
"mark":{"type":"text","align":"left","baseline":"middle","font":"Liberation Sans","fontSize":11,"color":"#333333"},
"encoding":{
"x":{"field":"t","type":"quantitative","scale":{"domain":[0.8746,5.0654],"nice":false,"zero":false}},
"y":{"field":"v","type":"quantitative","scale":{"domain":[0,327],"nice":false}},
"text":{"field":"lbl"}}}
]
}
]
}
